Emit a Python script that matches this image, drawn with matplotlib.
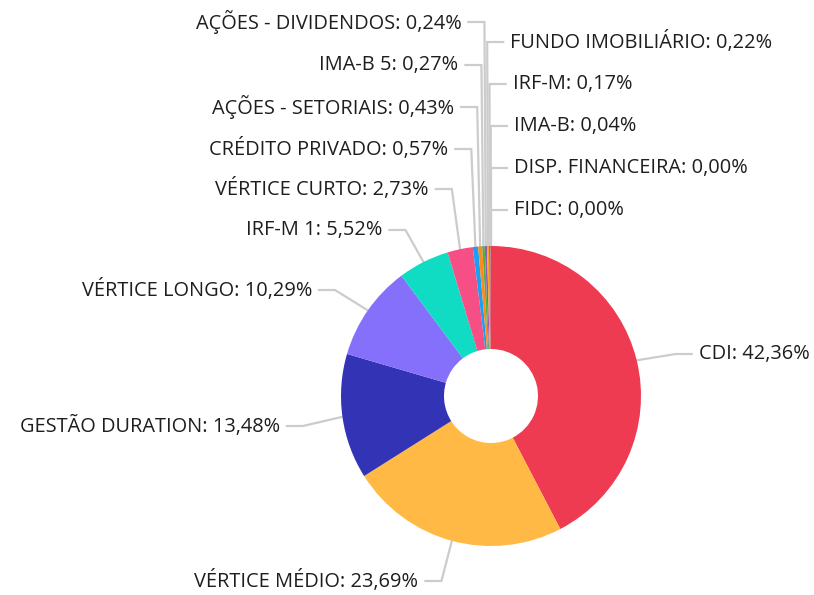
import numpy as np
import matplotlib.pyplot as plt

plt.rcParams['font.family'] = ['Open Sans', 'DejaVu Sans']

names = ['CDI', 'VÉRTICE MÉDIO', 'GESTÃO DURATION', 'VÉRTICE LONGO', 'IRF-M 1',
         'VÉRTICE CURTO', 'CRÉDITO PRIVADO', 'AÇÕES - SETORIAIS', 'IMA-B 5',
         'AÇÕES - DIVIDENDOS', 'FUNDO IMOBILIÁRIO', 'IRF-M', 'IMA-B',
         'DISP. FINANCEIRA', 'FIDC']
values = [42.36, 23.69, 13.48, 10.29, 5.52, 2.73, 0.57, 0.43, 0.27, 0.24,
          0.22, 0.17, 0.04, 0.00, 0.00]
colors = ['#ee3b51', '#ffb944', '#3333b5', '#8470fb', '#0fdcc3', '#f64f86',
          '#1a9ff2', '#ff8a1c', '#52b043', '#9b59b6', '#f5a623', '#e8415f',
          '#7f8c8d', '#2c3e50', '#16a085']

# label layout (pixel rows from the top) and side of the chart
label_y = [354, 581, 426, 290, 230, 189, 149, 107, 65, 22, 42, 84, 126, 168, 210]
sides = ['R', 'L', 'L', 'L', 'L', 'L', 'L', 'L', 'L', 'L', 'R', 'R', 'R', 'R', 'R']

W, H = 814, 595
cx, cy = 491, H - 396
R, hole = 150, 47
L1, L2, gap = 40, 16, 7

fig = plt.figure(figsize=(W / 100, H / 100), dpi=100)
ax = fig.add_axes([0, 0, 1, 1])
ax.pie(values, colors=colors, startangle=90, counterclock=False,
       center=(cx, cy), radius=R, wedgeprops=dict(width=R - hole, linewidth=0))
ax.set_xlim(0, W)
ax.set_ylim(0, H)
ax.set_aspect('equal')
ax.axis('off')

total = sum(values)
cum = np.cumsum([0] + values[:-1])
for name, v, c0, ly, side in zip(names, values, cum, label_y, sides):
    ang = np.deg2rad(90 - 360 * (c0 + v / 2) / total)
    x0, y0 = cx + R * np.cos(ang), cy + R * np.sin(ang)
    ex = cx + (R + L1) * np.cos(ang)
    ey = H - ly
    d = 1 if side == 'R' else -1
    ax.plot([x0, ex, ex + d * L2], [y0, ey, ey], color='#cccccc', lw=1.6,
            solid_joinstyle='miter', zorder=0)
    pct = f"{v:.2f}".replace('.', ',')
    ax.text(ex + d * (L2 + gap), ey, f"{name}: {pct}%",
            ha='left' if d > 0 else 'right',
            va='center', fontsize=14.4, color='#1e1e1e')

fig.savefig('out.png', dpi=100)
